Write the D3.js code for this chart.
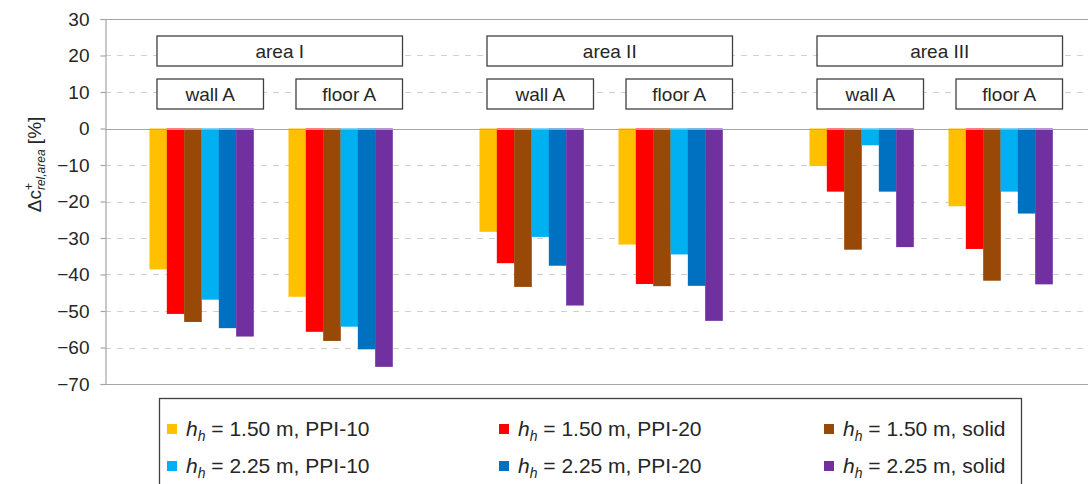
<!DOCTYPE html>
<html>
<head>
<meta charset="utf-8">
<script src="https://cdn.jsdelivr.net/npm/d3@7"></script>
<style>
  html, body { margin: 0; padding: 0; background: #fff; }
  svg { display: block; font-family: "Liberation Sans", Arial, sans-serif; }
</style>
</head>
<body>
<svg id="chart" width="1088" height="484"></svg>
<script>
// ---- data ----
const areas = ["area I", "area II", "area III"];
const surfaces = ["wall A", "floor A"];
const seriesKeys = ["s1", "s2", "s3", "s4", "s5", "s6"];
const seriesHeights = ["1.50", "1.50", "1.50", "2.25", "2.25", "2.25"];
const seriesTypes = ["PPI-10", "PPI-20", "solid", "PPI-10", "PPI-20", "solid"];
const seriesColors = ["#FFC000", "#FF0000", "#984807", "#00B0F0", "#0070C0", "#7030A0"];
// values per group (area, surface), order of seriesKeys
const areaI_wallA  = [-38.6, -50.8, -53.0, -46.9, -54.7, -57.0];
const areaI_floorA = [-46.1, -55.7, -58.2, -54.3, -60.5, -65.3];
const areaII_wallA  = [-28.3, -36.9, -43.4, -29.7, -37.6, -48.5];
const areaII_floorA = [-31.8, -42.6, -43.2, -34.5, -43.1, -52.7];
const areaIII_wallA  = [-10.3, -17.3, -33.2, -4.6, -17.3, -32.5];
const areaIII_floorA = [-21.3, -33.0, -41.7, -17.3, -23.3, -42.7];
const yTicks = [30, 20, 10, 0, -10, -20, -30, -40, -50, -60, -70];

const groupValues = [
  ["area I", "wall A", areaI_wallA], ["area I", "floor A", areaI_floorA],
  ["area II", "wall A", areaII_wallA], ["area II", "floor A", areaII_floorA],
  ["area III", "wall A", areaIII_wallA], ["area III", "floor A", areaIII_floorA]
];
const bars = [];
groupValues.forEach(([a, s, vals]) => vals.forEach((v, i) => bars.push({area: a, surface: s, key: seriesKeys[i], value: v, color: seriesColors[i]})));

// ---- layout ----
const svg = d3.select("#chart");
const plotLeft = 105, plotRight = 1097, plotTop = 19, plotBottom = 384;
const y = d3.scaleLinear().domain([-70, 30]).range([plotBottom, plotTop]);
const x0 = d3.scaleBand().domain(areas).range([plotLeft, plotRight]).paddingInner(0.2636).paddingOuter(0.1348);
const x1 = d3.scaleBand().domain(surfaces).range([0, x0.bandwidth()]).paddingInner(0.2518).paddingOuter(0);
const x2 = d3.scaleBand().domain(seriesKeys).range([0, x1.bandwidth()]).padding(0);

const gridColor = "#d0d0d0", axisColor = "#a6a6a6", textColor = "#262626";

// gridlines
svg.append("g").selectAll("line").data(yTicks).join("line")
  .attr("x1", plotLeft).attr("x2", 1088)
  .attr("y1", d => Math.round(y(d)) + 0.5).attr("y2", d => Math.round(y(d)) + 0.5)
  .attr("stroke", d => (d === 30 || d === 0 || d === -70) ? axisColor : gridColor)
  .attr("stroke-width", 1.2)
  .attr("stroke-dasharray", d => (d === 30 || d === 0 || d === -70) ? null : "6,6");

// y axis
const yAxis = d3.axisLeft(y).tickValues(yTicks).tickSize(5).tickPadding(11);
const ga = svg.append("g").attr("transform", `translate(${plotLeft + 0.5},0)`).call(yAxis);
ga.select(".domain").attr("stroke", axisColor).attr("stroke-width", 1.2);
ga.selectAll(".tick line").attr("stroke", axisColor).attr("stroke-width", 1.2);
ga.selectAll(".tick text").attr("font-size", 19).attr("fill", textColor)
  .attr("font-family", "'Liberation Sans', Arial, sans-serif");

// bars
svg.append("g").selectAll("rect").data(bars).join("rect")
  .attr("x", d => x0(d.area) + x1(d.surface) + x2(d.key))
  .attr("width", x2.bandwidth() + 0.3)
  .attr("y", d => y(Math.max(0, d.value)))
  .attr("height", d => Math.abs(y(d.value) - y(0)))
  .attr("fill", d => d.color);

// zero line on top
svg.append("line").attr("x1", plotLeft).attr("x2", 1088)
  .attr("y1", Math.round(y(0)) + 0.5).attr("y2", Math.round(y(0)) + 0.5)
  .attr("stroke", axisColor).attr("stroke-width", 1.2);

// label boxes
const boxOff = 7.5, boxExtra = 2.5;
const areaBoxTop = y(30) + 17, areaBoxH = 30;
const subBoxTop = y(30) + 60, subBoxH = 30;
const lab = svg.append("g");
areas.forEach(a => {
  const bx = x0(a) + boxOff, bw = x0.bandwidth() + boxExtra;
  lab.append("rect").attr("x", bx).attr("y", areaBoxTop).attr("width", bw).attr("height", areaBoxH)
    .attr("fill", "#fff").attr("stroke", "#404040").attr("stroke-width", 1.3);
  lab.append("text").attr("x", bx + bw / 2).attr("y", areaBoxTop + areaBoxH / 2 + 7)
    .attr("text-anchor", "middle").attr("font-size", 19).attr("fill", textColor).text(a);
  surfaces.forEach(s => {
    const sx = x0(a) + x1(s) + boxOff, sw = x1.bandwidth() + boxExtra;
    lab.append("rect").attr("x", sx).attr("y", subBoxTop).attr("width", sw).attr("height", subBoxH)
      .attr("fill", "#fff").attr("stroke", "#404040").attr("stroke-width", 1.3);
    lab.append("text").attr("x", sx + sw / 2).attr("y", subBoxTop + subBoxH / 2 + 7)
      .attr("text-anchor", "middle").attr("font-size", 19).attr("fill", textColor).text(s);
  });
});

// y axis title
const yt = svg.append("text").attr("transform", `translate(41,${(plotTop + plotBottom) / 2 - 37}) rotate(-90)`)
  .attr("text-anchor", "middle").attr("font-size", 19).attr("fill", textColor);
yt.append("tspan").text("Δc");
yt.append("tspan").attr("font-size", 12).attr("dy", -8).text("+");
yt.append("tspan").attr("font-size", 12).attr("font-style", "italic").attr("dx", -7).attr("dy", 12).text("rel,area");
yt.append("tspan").attr("dy", -4).text(" [%]");

// legend
const leg = svg.append("g");
leg.append("rect").attr("x", 159.5).attr("y", 398.5).attr("width", 862).attr("height", 120)
  .attr("fill", "#fff").attr("stroke", "#404040").attr("stroke-width", 1.3);
const colX = [167, 499, 824];
const rowY = [429, 466];
seriesKeys.forEach((k, i) => {
  const col = i % 3, row = Math.floor(i / 3);
  const gx = colX[col], gy = rowY[row];
  leg.append("rect").attr("x", gx).attr("y", gy - 5).attr("width", 10).attr("height", 10).attr("fill", seriesColors[i]);
  const t = leg.append("text").attr("x", gx + 19).attr("y", gy + 7).attr("font-size", 21).attr("fill", textColor);
  t.append("tspan").attr("font-style", "italic").text("h");
  t.append("tspan").attr("font-style", "italic").attr("font-size", 14).attr("dy", 5).text("h");
  t.append("tspan").attr("dy", -5).text(` = ${seriesHeights[i]} m, ${seriesTypes[i]}`);
});
</script>
</body>
</html>
